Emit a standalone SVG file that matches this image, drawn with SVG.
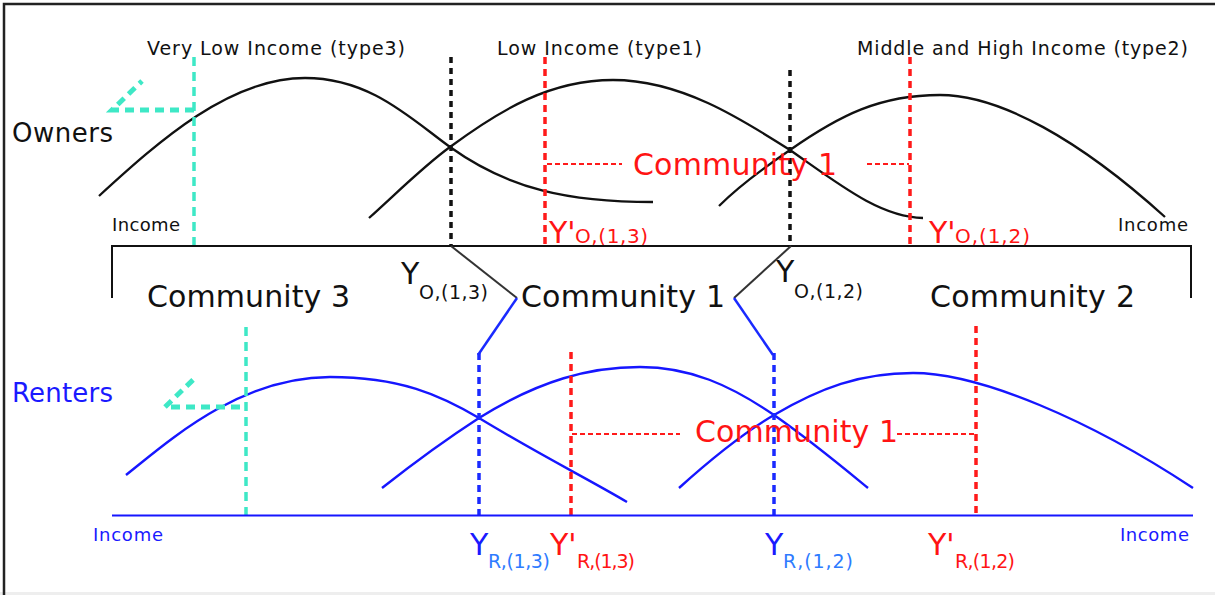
<svg xmlns="http://www.w3.org/2000/svg" width="1215" height="595" viewBox="0 0 1215 595">
<defs>
<style>
text{font-family:"DejaVu Sans",sans-serif}
.lbl{font-size:19px;fill:#111}
.inc{font-size:18px}
.big{font-size:26px}
.comm{font-size:30px;fill:#111}
.ylab{font-size:30px}
.sub{font-size:19px}
.k{fill:#111}
.red{fill:#ff1414}
.blue{fill:#1a1aff}
.lblue{fill:#2e7bff}
.cb{fill:none;stroke:#111;stroke-width:2.3}
.cbl{fill:none;stroke:#1616ff;stroke-width:2.4}
.dk{stroke:#111;stroke-width:3.5;stroke-dasharray:6 5}
.dr{stroke:#ff1a1a;stroke-width:3.5;stroke-dasharray:7 5}
.drt{stroke:#ff1a1a;stroke-width:1.8;stroke-dasharray:5 3}
.db{stroke:#1a2aff;stroke-width:3.5;stroke-dasharray:7 5}
.dc{fill:none;stroke:#3ee8c6;stroke-dasharray:9 6}
</style>
</defs>
<rect width="1215" height="595" fill="#fff"/>
<rect x="0" y="592" width="1215" height="3" fill="#eeeeee"/>
<path d="M4,595 V4 H1215" fill="none" stroke="#222" stroke-width="2.5"/>

<g id="owners">
  <text class="big k" x="12" y="142" textLength="101">Owners</text>
  <text class="lbl" x="147" y="55" textLength="258">Very Low Income (type3)</text>
  <text class="lbl" x="497" y="55" textLength="205">Low Income (type1)</text>
  <text class="lbl" x="857" y="55" textLength="331">Middle and High Income (type2)</text>
  <path class="cb" d="M99,196 C160,140 230,78 305,78 C370,78 410,118 450,147 C510,190 570,202 653,202"/>
  <path class="cb" d="M369,218 C400,190 425,165 450,147 C500,110 550,80 613,80 C680,80 740,118 790,150 C840,185 880,217 923,218"/>
  <path class="cb" d="M719,206 C740,185 765,167 790,150 C840,115 880,95 940,95 C1000,95 1080,140 1165,217"/>
  <g id="owners-cyan">
    <path class="dc" stroke-width="3.5" d="M194,57 V246"/>
    <path class="dc" stroke-width="5" d="M194,110 H112 L142,81"/>
  </g>
  <line class="dk" x1="451" y1="57" x2="451" y2="246"/>
  <line class="dk" x1="790" y1="70" x2="790" y2="246"/>
  <line class="dr" x1="545" y1="57" x2="545" y2="246"/>
  <line class="dr" x1="910" y1="57" x2="910" y2="246"/>
  <line class="drt" x1="547" y1="164" x2="622" y2="164"/>
  <line class="drt" x1="867" y1="164" x2="909" y2="164"/>
  <text class="comm red" x="633" y="175" textLength="204">Community 1</text>
  <text class="inc k" x="112" y="231" textLength="68">Income</text>
  <text class="inc k" x="1118" y="231" textLength="70">Income</text>
  <text class="red"><tspan class="ylab" x="549" y="243">Y'</tspan><tspan x="575" y="243" font-size="20" textLength="73">O,(1,3)</tspan></text>
  <text class="red"><tspan class="ylab" x="929" y="243">Y'</tspan><tspan x="955" y="243" font-size="20" textLength="75">O,(1,2)</tspan></text>
  <path d="M112,298 V246 H1191 V298" fill="none" stroke="#111" stroke-width="2"/>
</g>

<g id="communities">
  <text class="comm" x="147" y="307" textLength="203">Community 3</text>
  <text class="comm" x="521" y="307" textLength="204">Community 1</text>
  <text class="comm" x="930" y="307" textLength="205">Community 2</text>
  <text class="k"><tspan class="ylab" x="401" y="284">Y</tspan><tspan class="sub" x="419" y="299" textLength="69">O,(1,3)</tspan></text>
  <text class="k"><tspan class="ylab" x="776" y="282">Y</tspan><tspan class="sub" x="794" y="298" textLength="69">O,(1,2)</tspan></text>
</g>

<g id="connectors">
  <path d="M451,246 L517,298" fill="none" stroke="#333" stroke-width="2"/>
  <path d="M517,298 L478,355" fill="none" stroke="#1a2aff" stroke-width="2.5"/>
  <path d="M791,246 L734,298" fill="none" stroke="#333" stroke-width="2"/>
  <path d="M734,298 L773,355" fill="none" stroke="#1a2aff" stroke-width="2.5"/>
</g>

<g id="renters">
  <text class="big blue" x="12" y="402" textLength="101">Renters</text>
  <path class="cbl" d="M126,475 C170,440 240,377 330,377 C400,377 440,395 479,418 C540,455 590,480 627,502"/>
  <path class="cbl" d="M382,488 C415,462 445,440 479,418 C540,380 590,367 640,367 C690,367 730,385 774,415 C810,440 840,465 868,488"/>
  <path class="cbl" d="M679,488 C710,460 740,435 774,415 C820,388 860,373 913,373 C980,373 1090,420 1193,488"/>
  <g id="renters-cyan">
    <path class="dc" stroke-width="3.5" d="M246,327 V516"/>
    <path class="dc" stroke-width="5" d="M240,407 H165 L195,378"/>
  </g>
  <line class="db" x1="479" y1="353" x2="479" y2="515"/>
  <line class="db" x1="774" y1="353" x2="774" y2="515"/>
  <line class="dr" x1="571" y1="352" x2="571" y2="515"/>
  <line class="dr" x1="976" y1="326" x2="976" y2="515"/>
  <line class="drt" x1="572" y1="434" x2="680" y2="434"/>
  <line class="drt" x1="897" y1="434" x2="974" y2="434"/>
  <text class="comm red" x="695" y="442" textLength="203">Community 1</text>
  <line x1="112" y1="515.5" x2="1193" y2="515.5" stroke="#1616ff" stroke-width="2.2"/>
  <text class="inc blue" x="93" y="541" textLength="70">Income</text>
  <text class="inc blue" x="1120" y="541" textLength="69">Income</text>
  <text><tspan class="ylab blue" x="470" y="555">Y</tspan><tspan class="sub lblue" x="488" y="568" textLength="62">R,(1,3)</tspan></text>
  <text class="red"><tspan class="ylab" x="550" y="555">Y'</tspan><tspan class="sub" x="577" y="568" textLength="58">R,(1,3)</tspan></text>
  <text><tspan class="ylab blue" x="765" y="555">Y</tspan><tspan class="sub lblue" x="783" y="568" textLength="70">R,(1,2)</tspan></text>
  <text class="red"><tspan class="ylab" x="928" y="555">Y'</tspan><tspan class="sub" x="955" y="568" textLength="60">R,(1,2)</tspan></text>
</g>
</svg>
